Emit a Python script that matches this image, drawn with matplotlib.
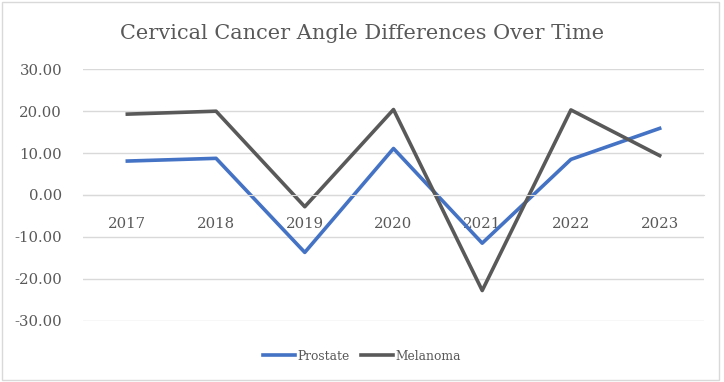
import matplotlib.pyplot as plt
from matplotlib.patches import Rectangle

years = ["2017", "2018", "2019", "2020", "2021", "2022", "2023"]
prostate = [8.1, 8.75, -13.7, 11.1, -11.5, 8.5, 15.9]
melanoma = [19.3, 20.0, -2.8, 20.4, -22.8, 20.3, 9.4]

TXT = "#595959"
plt.rcParams['font.family'] = ['DejaVu Serif']

fig = plt.figure(figsize=(7.24, 3.82), dpi=100)
ax = fig.add_axes([0.1146, 0.1605, 0.8578, 0.6581])

x = list(range(len(years)))
ax.plot(x, prostate, color="#4472C4", lw=2.6, label="Prostate")
ax.plot(x, melanoma, color="#595959", lw=2.6, label="Melanoma")

ax.set_xlim(-0.5, len(years) - 0.5)
ax.set_ylim(-30, 30)
ax.set_yticks(range(-30, 31, 10))
ax.set_yticklabels([f"{v:.2f}" for v in range(-30, 31, 10)])
ax.set_xticks(x)
ax.set_xticklabels(years)
ax.grid(axis="y", color="#D9D9D9", lw=1)
ax.set_axisbelow(True)
for s in ["top", "right", "left"]:
    ax.spines[s].set_visible(False)
ax.spines["bottom"].set_position(("data", 0))
ax.spines["bottom"].set_color("#D9D9D9")
ax.tick_params(axis="both", length=0, labelsize=10.7, labelcolor=TXT)
ax.tick_params(axis="x", pad=16)
ax.tick_params(axis="y", pad=15)

fig.text(0.5, 0.912, "Cervical Cancer Angle Differences Over Time",
         ha="center", va="center", fontsize=15, color=TXT)

fig.legend(loc="center", bbox_to_anchor=(0.5, 0.068), ncol=2, frameon=False,
           fontsize=8.8, handlelength=2.6, handletextpad=0.15, columnspacing=1.0,
           labelcolor=TXT)

fig.patches.append(Rectangle((0.003, 0.004), 0.99, 0.99, transform=fig.transFigure,
                             fill=False, edgecolor="#D9D9D9", lw=1))

fig.savefig("out.png", dpi=100)
